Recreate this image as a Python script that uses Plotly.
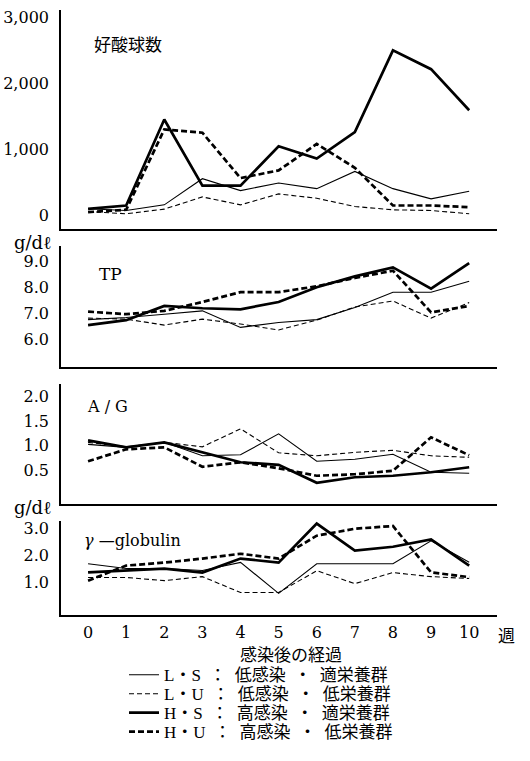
import plotly.graph_objects as go
from plotly.subplots import make_subplots

weeks = list(range(11))
x_ticktext = [str(w) for w in weeks]

# 好酸球数
eos_LS = [100, 75, 160, 555, 375, 490, 405, 665, 405, 250, 365]
eos_LU = [60, 25, 95, 280, 160, 325, 260, 135, 85, 75, 25]
eos_HS = [100, 150, 1450, 450, 450, 1045, 860, 1260, 2495, 2210, 1590]
eos_HU = [50, 85, 1300, 1250, 565, 680, 1080, 720, 150, 150, 125]

# TP
tp_LS = [6.75, 6.83, 6.96, 7.09, 6.45, 6.64, 6.75, 7.22, 7.81, 7.81, 8.23]
tp_LU = [6.81, 6.77, 6.54, 6.77, 6.58, 6.35, 6.73, 7.24, 7.47, 6.81, 7.41]
tp_HS = [6.54, 6.73, 7.28, 7.19, 7.15, 7.43, 8.0, 8.42, 8.77, 7.95, 8.93]
tp_HU = [7.06, 6.96, 7.09, 7.43, 7.81, 7.81, 8.04, 8.36, 8.64, 7.03, 7.28]

# A/G
ag_LS = [1.03, 0.97, 1.07, 0.80, 0.82, 1.24, 0.69, 0.73, 0.83, 0.47, 0.45]
ag_LU = [1.07, 0.98, 1.07, 0.98, 1.34, 0.86, 0.80, 0.87, 0.91, 0.80, 0.77]
ag_HS = [1.11, 0.97, 1.07, 0.87, 0.67, 0.62, 0.26, 0.37, 0.40, 0.47, 0.57]
ag_HU = [0.69, 0.93, 0.97, 0.58, 0.67, 0.55, 0.40, 0.43, 0.50, 1.17, 0.81]

# γ-globulin
gl_LS = [1.70, 1.52, 1.52, 1.45, 1.75, 0.60, 1.70, 1.70, 1.70, 2.55, 1.75]
gl_LU = [1.19, 1.19, 1.07, 1.22, 0.63, 0.63, 1.44, 0.96, 1.37, 1.22, 1.15]
gl_HS = [1.38, 1.44, 1.52, 1.37, 1.89, 1.74, 3.19, 2.19, 2.33, 2.60, 1.63]
gl_HU = [1.07, 1.63, 1.74, 1.89, 2.07, 1.89, 2.74, 3.00, 3.10, 1.38, 1.20]

EN = "\u2002"
group_names = [f"L・S{EN}：{EN}低感染{EN}・{EN}適栄養群",
               f"L・U{EN}：{EN}低感染{EN}・{EN}低栄養群",
               f"H・S{EN}：{EN}高感染{EN}・{EN}適栄養群",
               f"H・U{EN}：{EN}高感染{EN}・{EN}低栄養群"]
styles = [dict(width=1.1, dash="solid"), dict(width=1.1, dash="5px,3px"),
          dict(width=2.7, dash="solid"), dict(width=2.7, dash="6px,3px")]
legend_ids = ["legend", "legend2", "legend3", "legend4"]

panels = [
    (eos_LS, eos_LU, eos_HS, eos_HU),
    (tp_LS, tp_LU, tp_HS, tp_HU),
    (ag_LS, ag_LU, ag_HS, ag_HU),
    (gl_LS, gl_LU, gl_HS, gl_HU),
]

fig = make_subplots(rows=4, cols=1)
for r, series in enumerate(panels, start=1):
    for i, vals in enumerate(series):
        fig.add_trace(go.Scatter(
            x=weeks, y=vals, mode="lines", name=group_names[i],
            line=dict(color="black", **styles[i]),
            legend=legend_ids[i],
            showlegend=(r == 1)), row=r, col=1)

H = 761
W = 530
def dom(top, bot):
    return [1 - bot / H, 1 - top / H]

serif = "DejaVu Serif, Liberation Serif, Noto Sans CJK JP, serif"
tickfont = dict(family=serif, size=16, color="black")

ydoms = [dom(8, 228), dom(245, 366), dom(383, 503), dom(520, 615)]
yranges = [[-211, 3105], [4.92, 9.58], [-0.16, 2.24], [-0.22, 3.3]]
yticks = [([0, 1000, 2000, 3000], ["0", "1,000", "2,000", "3,000"]),
          ([6, 7, 8, 9], ["6.0", "7.0", "8.0", "9.0"]),
          ([0.5, 1.0, 1.5, 2.0], ["0.5", "1.0", "1.5", "2.0"]),
          ([1, 2, 3], ["1.0", "2.0", "3.0"])]

for r in range(1, 5):
    xa = "xaxis" if r == 1 else f"xaxis{r}"
    ya = "yaxis" if r == 1 else f"yaxis{r}"
    fig.layout[xa].update(domain=[61 / W, 497 / W], range=[-0.71, 10.73],
                          showline=True, linecolor="black", linewidth=1.6,
                          showgrid=False, zeroline=False, ticks="",
                          tickvals=weeks, ticktext=x_ticktext,
                          showticklabels=(r == 4), tickfont=tickfont,
                          ticklabelstandoff=2)
    tv, tt = yticks[r - 1]
    fig.layout[ya].update(domain=ydoms[r - 1], range=yranges[r - 1],
                          showline=True, linecolor="black", linewidth=1.6,
                          showgrid=False, zeroline=False, ticks="",
                          tickvals=tv, ticktext=tt, tickfont=tickfont,
                          ticklabelstandoff=7)

def px_x(x):
    return x / W
def px_y(y):
    return 1 - y / H

cjk = "Noto Sans CJK JP"
annots = [
    dict(text="好酸球数", x=92, y=42, size=17, xanchor="left", family=cjk),
    dict(text="TP", x=97, y=273, size=17, xanchor="left", family=serif),
    dict(text="A / G", x=85, y=406, size=16, xanchor="left", family=serif),
    dict(text="<i>γ</i> —globulin", x=82, y=540, size=16, xanchor="left", family=serif),
    dict(text="g/dℓ", x=12, y=241, size=18, xanchor="left", family=serif),
    dict(text="g/dℓ", x=12, y=507, size=18, xanchor="left", family=serif),
    dict(text="週", x=506, y=634, size=17, xanchor="center", family=cjk),
    dict(text="感染後の経過", x=291, y=653, size=17, xanchor="center", family=cjk),
]
for a in annots:
    fig.add_annotation(text=a["text"], xref="paper", yref="paper",
                       x=px_x(a["x"]), y=px_y(a["y"]), xanchor=a["xanchor"],
                       yanchor="middle", showarrow=False,
                       font=dict(family=a["family"], size=a["size"], color="black"))

legend_font = dict(family="Liberation Serif, Noto Sans CJK JP, serif", size=17, color="black")
legend_rows = [675, 694, 713, 732]
layout_legends = {}
for lid, yc in zip(legend_ids, legend_rows):
    layout_legends[lid] = dict(x=px_x(124), y=px_y(yc), xanchor="left", yanchor="middle",
                               font=legend_font, bgcolor="rgba(0,0,0,0)",
                               borderwidth=0)

fig.update_layout(
    width=W, height=H,
    margin=dict(l=0, r=0, t=0, b=0),
    paper_bgcolor="white", plot_bgcolor="white",
    **layout_legends,
)

fig.write_html("out.html", config={"displayModeBar": False},
               post_script="document.body.style.margin='0';")
